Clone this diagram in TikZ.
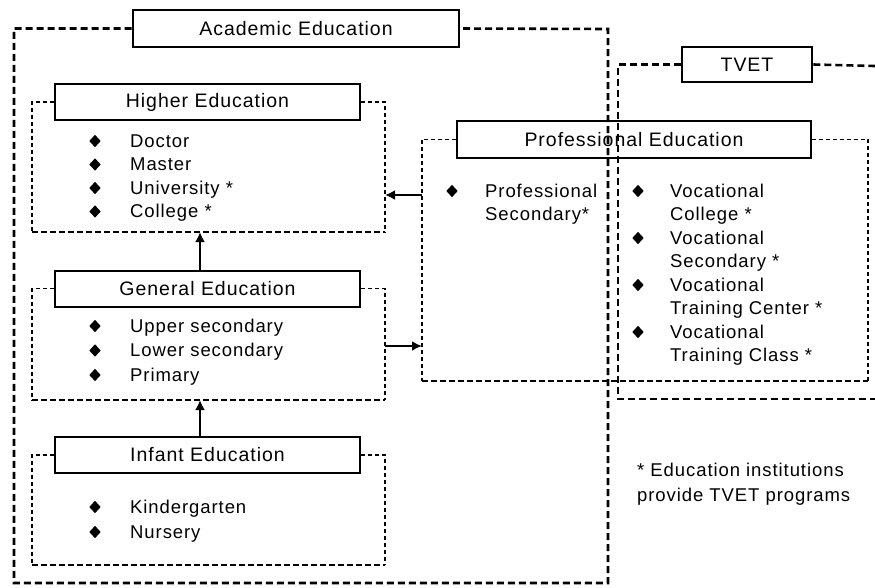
\documentclass[tikz,border=0pt]{standalone}
\usepackage{fontspec}
\setmainfont{Liberation Sans}[LetterSpace=5]
\usetikzlibrary{shapes.geometric,arrows.meta}

\begin{document}
\begin{tikzpicture}[x=1pt,y=-1pt]
  \tikzstyle{every node}=[inner sep=0pt]
  \tikzstyle{head}=[draw,rectangle,minimum height=36pt,font=\fontsize{19.5}{23}\selectfont]
  \tikzstyle{item}=[anchor=base west,font=\fontsize{18.5}{23}\selectfont]
  \tikzstyle{bul}=[diamond,fill=black,minimum width=11.5pt,minimum height=12.5pt]
  \tikzstyle{outer}=[line width=2.6pt,dash pattern=on 7pt off 4pt]
  \tikzstyle{grp}=[line width=1.3pt,dash pattern=on 4pt off 3pt]
  \tikzstyle{grpb}=[line width=2.6pt,dash pattern=on 6pt off 3pt]
  \tikzstyle{arr}=[line width=2.6pt,-{Latex[length=10pt,width=10pt]}]
  \useasboundingbox (0,0) rectangle (875,587);

  % title boxes
  \node[head,line width=2.6pt,minimum width=326pt,minimum height=37pt] (ahead) at (296,28.5) {Academic Education};
  \node[head,line width=2.6pt,minimum width=130pt,minimum height=35pt] (thead) at (747,64.5) {TVET};
  \node[head,line width=1.4pt,minimum width=305pt] (hhead) at (207.5,102) {Higher Education};
  \node[head,line width=2pt,minimum width=305pt] (ghead) at (207.5,288.5) {General Education};
  \node[head,line width=1.4pt,minimum width=305pt] (ihead) at (207.5,455) {Infant Education};
  \node[head,line width=1.4pt,minimum width=354pt,minimum height=37pt] (phead) at (634,139.5) {Professional Education};

  % outer frames
  \draw[outer] (ahead.west) -| (14,583) -| (608,29) -- (ahead.east);
  \draw[outer] (thead.west) -| (618,399) -- (875,399);
  \draw[outer] (thead.east) -- (875,66);

  % group frames
  \foreach \h/\b in {hhead/232, ghead/400, ihead/565}{
    \draw[grp] (\h.west) -| (32,\b);
    \draw[grp] (\h.east) -| (385,\b);
    \draw[grpb] (32,\b) -- (385,\b);
  }
  \draw[grp] (phead.west) -| (422,381);
  \draw[grp] (phead.east) -| (868,381);
  \draw[grpb] (422,381) -- (868,381);

  % lists
  \foreach \t [count=\i] in {Doctor, Master, University *, College *}{
    \node[item] (hi\i) at (130,123.5+23.5*\i) {\t};
    \node[bul] (hb\i) at (95,117.5+23.5*\i) {};
  }
  \foreach \t [count=\i] in {Upper secondary, Lower secondary, Primary}{
    \node[item] (gi\i) at (130,307.5+24.5*\i) {\t};
    \node[bul] (gb\i) at (95,301.5+24.5*\i) {};
  }
  \foreach \t [count=\i] in {Kindergarten, Nursery}{
    \node[item] (ii\i) at (130,488+25*\i) {\t};
    \node[bul] (ib\i) at (95,482+25*\i) {};
  }
  \node[item] (pi1) at (485,197) {Professional};
  \node[item] (pi2) at (485,220.5) {Secondary*};
  \node[bul] (pb1) at (452,191) {};
  \foreach \a/\b [count=\i] in {Vocational/College *, Vocational/Secondary *,
      Vocational/Training Center *, Vocational/Training Class *}{
    \node[item] (va\i) at (670,150+47*\i) {\a};
    \node[item] (vb\i) at (670,173.5+47*\i) {\b};
    \node[bul] (vbul\i) at (638,144+47*\i) {};
  }

  % arrows
  \coordinate (hbot) at (200,232);
  \coordinate (gbot) at (200,400);
  \coordinate (hin) at (385,195);
  \coordinate (pout) at (422,195);
  \coordinate (gout) at (385,346);
  \coordinate (pin) at (422,346);
  \draw[arr] (ghead.north -| hbot) -- (hbot);
  \draw[arr] (ihead.north -| gbot) -- (gbot);
  \draw[arr] (pout) -- (hin);
  \draw[arr] (gout) -- (pin);

  \node[item] (note1) at (637,476) {* Education institutions};
  \node[item] (note2) at (637,501) {provide TVET programs};
\end{tikzpicture}
\end{document}
